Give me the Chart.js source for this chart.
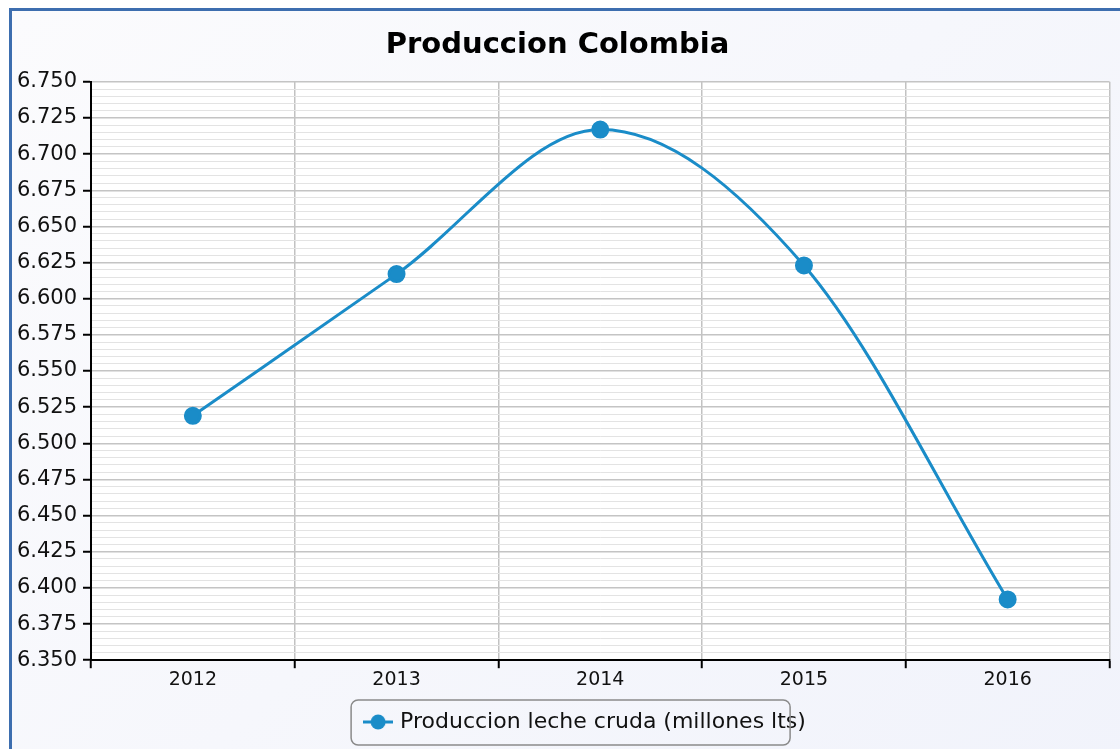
<!DOCTYPE html>
<html>
<head>
<meta charset="utf-8">
<script src="https://cdn.jsdelivr.net/npm/chart.js@4.4.1/dist/chart.umd.min.js"></script>
<style>
  html, body { margin: 0; padding: 0; background: #ffffff; }
  #frame {
    position: absolute; left: 9px; top: 8px; width: 1120px; height: 760px;
    border-left: 3px solid #3d6eaf; border-top: 3px solid #3d6eaf;
    background: linear-gradient(135deg, #fbfbfd 0%, #f1f3fb 100%);
  }
  #wrap { position: absolute; left: 0; top: 0; width: 1120px; height: 749px; }
</style>
</head>
<body>
<div id="frame"></div>
<div id="wrap"><canvas id="myChart"></canvas></div>
<script>
const years = ["2012", "2013", "2014", "2015", "2016"];
const produccion = [6.519, 6.617, 6.717, 6.623, 6.392];
const serieLabel = "Produccion leche cruda (millones lts)";
const titulo = "Produccion Colombia";
const azul = "#1a8cc8";

// marcador de leyenda: linea con punto
function legendMarker() {
  const c = document.createElement("canvas");
  c.width = 30;
  c.height = 18;
  const g = c.getContext("2d");
  g.strokeStyle = azul;
  g.lineWidth = 3;
  g.beginPath();
  g.moveTo(0, 9);
  g.lineTo(30, 9);
  g.stroke();
  g.fillStyle = azul;
  g.beginPath();
  g.arc(15, 9, 7.5, 0, Math.PI * 2);
  g.fill();
  return c;
}

function isMajor(v) {
  return Math.round(v * 1000) % 25 === 0;
}

const fondoArea = {
  id: "fondoArea",
  afterLayout(chart) {
    // la leyenda del original no queda centrada
    chart.legend.left += 29;
    chart.legend.right += 29;
  },
  beforeDraw(chart) {
    const { ctx, chartArea } = chart;
    ctx.save();
    ctx.fillStyle = "#ffffff";
    ctx.fillRect(chartArea.left, chartArea.top, chartArea.right - chartArea.left, chartArea.bottom - chartArea.top);
    ctx.restore();
  },
  afterDraw(chart) {
    const box = chart.legend.legendHitBoxes[0];
    if (!box) return;
    const { ctx } = chart;
    const cy = box.top + box.height / 2;
    ctx.save();
    ctx.strokeStyle = "#8a8a8a";
    ctx.lineWidth = 1.5;
    ctx.beginPath();
    ctx.roundRect(box.left - 16, cy - 22, 439, 45, 7);
    ctx.stroke();
    ctx.restore();
  }
};

Chart.defaults.font.family = "'DejaVu Sans', Verdana, sans-serif";
Chart.defaults.color = "#111";

const chart = new Chart(document.getElementById("myChart"), {
  type: "line",
  data: {
    labels: years,
    datasets: [
      {
        label: serieLabel,
        data: produccion,
        borderColor: azul,
        backgroundColor: azul,
        borderWidth: 3,
        pointStyle: "circle",
        pointRadius: 7.5,
        pointHoverRadius: 7.5,
        cubicInterpolationMode: "monotone"
      }
    ]
  },
  options: {
    responsive: true,
    maintainAspectRatio: false,
    animation: false,
    layout: { padding: { left: 0, right: 5, top: 0, bottom: 6 } },
    scales: {
      x: {
        offset: true,
        afterFit: (scale) => { scale.height += 4; },
        grid: {
          offset: true,
          color: "#c2c2c2",
          lineWidth: 1.5,
          tickColor: "#000",
          tickLength: 8,
          tickWidth: 2
        },
        border: { color: "#000", width: 2 },
        ticks: { font: { size: 19 }, color: "#111", padding: 0 }
      },
      y: {
        min: 6.35,
        max: 6.75,
        afterFit: (scale) => { scale.width = 91; },
        grid: {
          color: (c) => (isMajor(c.tick.value) ? "#c4c4c4" : "#e3e3e3"),
          lineWidth: (c) => (isMajor(c.tick.value) ? 1.5 : 1),
          tickColor: (c) => (isMajor(c.tick.value) ? "#000" : "rgba(0,0,0,0)"),
          tickLength: 8,
          tickWidth: 2
        },
        border: { color: "#000", width: 2 },
        ticks: {
          stepSize: 0.005,
          autoSkip: false,
          font: { size: 21 },
          color: "#111",
          padding: 6,
          callback: (v) => (isMajor(v) ? v.toFixed(3) : "")
        }
      }
    },
    plugins: {
      title: {
        display: true,
        text: titulo,
        color: "#000",
        font: { size: 29, weight: "bold" },
        padding: { top: 28, bottom: 19 }
      },
      legend: {
        position: "bottom",
        labels: {
          usePointStyle: true,
          pointStyle: legendMarker(),
          font: { size: 22 },
          color: "#111",
          padding: 16
        }
      },
      tooltip: { enabled: false }
    }
  },
  plugins: [fondoArea]
});
</script>
</body>
</html>
